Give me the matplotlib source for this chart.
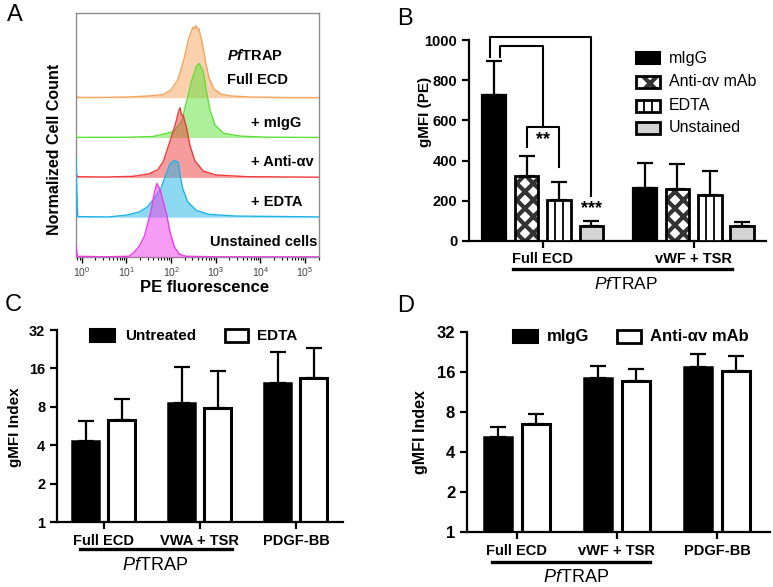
import numpy as np
import matplotlib
matplotlib.use('Agg')
import matplotlib.pyplot as plt
from matplotlib.patches import Rectangle
from matplotlib.lines import Line2D

plt.rcParams['font.family'] = ['Liberation Sans', 'DejaVu Sans']
plt.rcParams['mathtext.fontset'] = 'custom'
plt.rcParams['mathtext.rm'] = 'Liberation Sans'
plt.rcParams['mathtext.it'] = 'Liberation Sans:italic'
plt.rcParams['mathtext.bf'] = 'Liberation Sans:bold'
plt.rcParams['mathtext.bfit'] = 'Liberation Sans:bold:italic'
plt.rcParams['hatch.linewidth'] = 3.0

# ---- panel A: flow histograms (log10 PE, height relative to mode) ----
hist_labels = ['Full ECD', '+ mIgG', '+ Anti-\u03b1v', '+ EDTA', 'Unstained cells']
hist_colors = ['#F7A35C', '#5FE03A', '#EE3B3B', '#1EB4E6', '#EE3BEA']
hist_peaks = [1.81, 1.86, 1.75, 1.43, 1.85]

full_log = [-0.13, -0.10, 0.5, 1.0, 1.5, 1.82, 2.0, 2.15, 2.28, 2.40, 2.49, 2.53, 2.55, 2.58,
            2.62, 2.69, 2.77, 2.85, 2.96, 3.12, 3.35, 3.8, 4.5, 5.31]
full_h = [0.04, 0.005, 0.005, 0.01, 0.025, 0.045, 0.11, 0.25, 0.52, 0.84, 0.98, 0.96, 1.0, 0.97,
          0.96, 0.78, 0.50, 0.27, 0.12, 0.05, 0.025, 0.01, 0.004, 0.002]
migg_log = [-0.13, -0.11, 1.0, 1.6, 2.05, 2.23, 2.35, 2.46, 2.57, 2.63, 2.72, 2.80, 2.87, 2.98,
            3.17, 3.54, 4.2, 5.31]
migg_h = [0.03, 0.003, 0.004, 0.015, 0.08, 0.21, 0.5, 0.77, 0.97, 1.0, 0.89, 0.59, 0.37, 0.17,
          0.06, 0.02, 0.005, 0.002]
anti_log = [-0.13, -0.10, 0.5, 1.15, 1.5, 1.7, 1.82, 1.97, 2.09, 2.16, 2.18, 2.20, 2.23, 2.27,
            2.35, 2.42, 2.53, 2.72, 3.0, 3.7, 5.31]
anti_h = [0.07, 0.01, 0.005, 0.015, 0.05, 0.11, 0.22, 0.51, 0.75, 0.93, 0.97, 1.0, 0.9, 0.89,
          0.70, 0.46, 0.24, 0.09, 0.035, 0.01, 0.003]
edta_log = [-0.13, -0.115, -0.09, 0.6, 0.99, 1.28, 1.47, 1.62, 1.77, 1.85, 1.97, 2.07, 2.16,
            2.21, 2.26, 2.37, 2.56, 2.85, 3.45, 5.31]
edta_h = [1.05, 0.5, 0.01, 0.005, 0.035, 0.09, 0.18, 0.33, 0.5, 0.68, 0.93, 1.0, 0.96, 0.69,
          0.5, 0.27, 0.12, 0.05, 0.02, 0.005]
unst_log = [-0.13, -0.10, 0.5, 1.06, 1.17, 1.28, 1.40, 1.47, 1.55, 1.62, 1.68, 1.75, 1.82,
            1.90, 1.97, 2.07, 2.18, 2.33, 3.0, 5.31]
unst_h = [0.16, 0.01, 0.003, 0.01, 0.065, 0.14, 0.28, 0.44, 0.63, 0.86, 1.0, 0.92, 0.76,
          0.58, 0.35, 0.14, 0.04, 0.01, 0.003, 0.002]
hist_logs = [full_log, migg_log, anti_log, edta_log, unst_log]
hist_heights = [full_h, migg_h, anti_h, edta_h, unst_h]

# ---- panel B: gMFI (PE) ----
b_groups = ['Full ECD', 'vWF + TSR']
b_series = ['mIgG', 'Anti-\u03b1v mAb', 'EDTA', 'Unstained']
b_migg = [724, 264]
b_migg_sd = [173, 124]
b_anti = [324, 260]
b_anti_sd = [97, 125]
b_edta = [203, 231]
b_edta_sd = [91, 116]
b_unst = [74, 76]
b_unst_sd = [25, 20]

# ---- panel C: gMFI index ----
c_groups = ['Full ECD', 'VWA + TSR', 'PDGF-BB']
c_untreated = [4.3, 8.6, 12.3]
c_untreated_sd = [1.9, 7.8, 9.2]
c_edta = [6.3, 7.8, 13.4]
c_edta_sd = [2.9, 7.5, 9.7]

# ---- panel D: gMFI index ----
d_groups = ['Full ECD', 'vWF + TSR', 'PDGF-BB']
d_migg = [5.2, 14.5, 17.4]
d_migg_sd = [1.0, 3.3, 4.4]
d_anti = [6.5, 13.7, 16.3]
d_anti_sd = [1.2, 3.1, 4.7]

W, H = 773, 587
fig = plt.figure(figsize=(W / 100, H / 100), dpi=100)


def fx(x):
    return x / W


def fy(y):
    return 1 - y / H


def add_ax(l, t, r, b):
    return fig.add_axes([fx(l), fy(b), (r - l) / W, (b - t) / H])


def hline(x0, x1, y, lw=2.2):
    fig.add_artist(Line2D([fx(x0), fx(x1)], [fy(y), fy(y)], color='black', lw=lw,
                          transform=fig.transFigure))


def style_bar_axes(ax, fs):
    for s in ['top', 'right']:
        ax.spines[s].set_visible(False)
    for s in ['left', 'bottom']:
        ax.spines[s].set_linewidth(1.6)
    ax.tick_params(axis='both', width=1.6, length=5, labelsize=fs)
    for lab in ax.get_yticklabels() + ax.get_xticklabels():
        lab.set_fontweight('bold')


def upper_err(ax, x, y, sd):
    ax.errorbar(x, y, yerr=[np.zeros(len(sd)), sd], fmt='none', ecolor='black',
                elinewidth=1.6, capsize=5.5, capthick=1.6, zorder=1)


# ================= A =================
axA = add_ax(76, 13, 319, 257)
for i in range(5):
    base = 4 - i
    xs = 10 ** np.array(hist_logs[i])
    ys = base + hist_peaks[i] * np.array(hist_heights[i])
    axA.fill_between(xs, base, ys, color=hist_colors[i], alpha=0.5, lw=0, zorder=2 + i)
    axA.plot(xs, ys, color=hist_colors[i], lw=1.0, zorder=2 + i)
axA.set_xscale('log')
axA.set_xlim(10 ** -0.13, 10 ** 5.31)
axA.set_ylim(0, 6.13)
axA.set_yticks([])
for s in axA.spines.values():
    s.set_color('#8c8c8c')
    s.set_linewidth(1.0)
axA.set_xticks([10 ** k for k in range(6)])
axA.tick_params(axis='x', which='major', length=4, width=1.0, labelsize=7.5, labelcolor='#444444', pad=2)
axA.tick_params(axis='x', which='minor', length=2.5, width=0.8)

fig.text(fx(227), fy(55), r'$\mathbfit{Pf}$TRAP', fontsize=10.5, fontweight='bold', va='center')
fig.text(fx(227), fy(80), hist_labels[0], fontsize=10.5, fontweight='bold', va='center')
fig.text(fx(251), fy(123), hist_labels[1], fontsize=10.5, fontweight='bold', va='center')
fig.text(fx(251), fy(162), hist_labels[2], fontsize=10.5, fontweight='bold', va='center')
fig.text(fx(251), fy(202), hist_labels[3], fontsize=10.5, fontweight='bold', va='center')
fig.text(fx(210), fy(242), hist_labels[4], fontsize=10.5, fontweight='bold', va='center')
fig.text(fx(55), fy(149), 'Normalized Cell Count', fontsize=11.5, fontweight='bold',
         rotation=90, ha='center', va='center')
fig.text(fx(205), fy(288), 'PE fluorescence', fontsize=12, fontweight='bold', ha='center', va='center')

# ================= B =================
axB = add_ax(469, 40, 766, 241)
gx = np.arange(len(b_groups))
step, bw = 0.215, 0.156
offs = np.array([-1.5, -0.5, 0.5, 1.5]) * step
axB.bar(gx + offs[0], b_migg, bw, color='black', edgecolor='black', lw=1.6, zorder=2)
axB.bar(gx + offs[1], b_anti, bw, color='white', edgecolor='#333333', lw=0, hatch='xx', zorder=2)
axB.bar(gx + offs[1], b_anti, bw, color='none', edgecolor='black', lw=2.0, zorder=3)
axB.bar(gx + offs[2], b_edta, bw, color='white', edgecolor='black', lw=2.0, zorder=3)
for xc, v in zip(gx + offs[2], b_edta):
    for f in (-1 / 6, 1 / 6):
        axB.plot([xc + f * bw, xc + f * bw], [0, v], color='black', lw=1.3, zorder=3)
axB.bar(gx + offs[3], b_unst, bw, color='#d3d3d3', edgecolor='black', lw=2.0, zorder=2)
for k, (vals, sd) in enumerate([(b_migg, b_migg_sd), (b_anti, b_anti_sd),
                                 (b_edta, b_edta_sd), (b_unst, b_unst_sd)]):
    upper_err(axB, gx + offs[k], vals, sd)
axB.set_xlim(-0.49, 1.48)
axB.set_ylim(0, 1000)
axB.set_yticks([0, 200, 400, 600, 800, 1000])
axB.set_xticks(gx)
axB.set_xticklabels(b_groups)
style_bar_axes(axB, 10.5)
axB.tick_params(axis='x', pad=3)

# significance brackets
xm, xa, xe, xu = offs
bk = dict(color='black', lw=1.5, clip_on=False, zorder=4)
axB.plot([xm - 0.03, xm - 0.03, xu, xu], [917, 1016, 1016, 225], **bk)
axB.plot([xm + 0.035, xm + 0.035, 0, 0], [917, 969, 969, 567], **bk)
axB.plot([xa, xa, xe, xe], [468, 567, 567, 369], **bk)
axB.text(0, 505, '**', ha='center', va='center', fontsize=13, fontweight='bold')
axB.text(xu, 160, '***', ha='center', va='center', fontsize=13, fontweight='bold')

fig.text(fx(425), fy(112), 'gMFI (PE)', fontsize=11, fontweight='bold', rotation=90,
         ha='center', va='center')
hline(513, 732, 269, lw=2.4)
fig.text(fx(626), fy(284), r'$\mathit{Pf}$TRAP', fontsize=12.5, ha='center', va='center')

# legend B (drawn by hand)
leg_y = [58, 82, 106, 128]
for k, name in enumerate(b_series):
    yc = leg_y[k]
    rect_kw = dict(transform=fig.transFigure)
    if k == 0:
        fig.add_artist(Rectangle((fx(636), fy(yc + 6)), 24 / W, 12 / H, facecolor='black',
                                 edgecolor='black', lw=1.5, **rect_kw))
    elif k == 1:
        fig.add_artist(Rectangle((fx(636), fy(yc + 6)), 24 / W, 12 / H, facecolor='white',
                                 edgecolor='#333333', lw=0, hatch='x', **rect_kw))
        fig.add_artist(Rectangle((fx(636), fy(yc + 6)), 24 / W, 12 / H, facecolor='none',
                                 edgecolor='black', lw=2.0, **rect_kw))
    elif k == 2:
        fig.add_artist(Rectangle((fx(636), fy(yc + 6)), 24 / W, 12 / H, facecolor='white',
                                 edgecolor='black', lw=2.0, **rect_kw))
        for f in (1 / 3, 2 / 3):
            fig.add_artist(Line2D([fx(636 + 24 * f)] * 2, [fy(yc + 6), fy(yc - 6)], color='black',
                                  lw=1.3, transform=fig.transFigure))
    else:
        fig.add_artist(Rectangle((fx(636), fy(yc + 6)), 24 / W, 12 / H, facecolor='#d3d3d3',
                                 edgecolor='black', lw=2.0, **rect_kw))
    fig.text(fx(669), fy(yc), name, fontsize=11.5, va='center')

# ================= C =================
axC = add_ax(57, 330, 343, 522)
cx = np.arange(len(c_groups))
co, cw = 0.1875, 0.28
axC.bar(cx - co, c_untreated, cw, color='black', edgecolor='black', lw=1.8, zorder=2)
axC.bar(cx + co, c_edta, cw, color='white', edgecolor='black', lw=2.2, zorder=2)
upper_err(axC, cx - co, c_untreated, c_untreated_sd)
upper_err(axC, cx + co, c_edta, c_edta_sd)
axC.set_yscale('log', base=2)
axC.set_ylim(1, 32)
axC.set_yticks([1, 2, 4, 8, 16, 32])
axC.set_yticklabels(['1', '2', '4', '8', '16', '32'])
axC.minorticks_off()
axC.set_xlim(-0.485, 2.49)
axC.set_xticks(cx)
axC.set_xticklabels(c_groups)
style_bar_axes(axC, 10.5)
fig.text(fx(15), fy(427), 'gMFI Index', fontsize=11, fontweight='bold', rotation=90,
         ha='center', va='center')
hline(80, 232, 549, lw=2.4)
fig.text(fx(155), fy(565), r'$\mathit{Pf}$TRAP', fontsize=13, ha='center', va='center')
# legend C
fig.add_artist(Rectangle((fx(90), fy(342)), 25 / W, 13 / H, facecolor='black', edgecolor='black',
                         lw=1.5, transform=fig.transFigure))
fig.text(fx(125), fy(335.5), 'Untreated', fontsize=11, fontweight='bold', va='center')
fig.add_artist(Rectangle((fx(225), fy(342)), 23 / W, 13 / H, facecolor='white', edgecolor='black',
                         lw=2.0, transform=fig.transFigure))
fig.text(fx(257), fy(335.5), 'EDTA', fontsize=11, fontweight='bold', va='center')

# ================= D =================
axD = add_ax(467, 332, 770, 532)
dx = np.arange(len(d_groups))
do, dw = 0.188, 0.28
axD.bar(dx - do, d_migg, dw, color='black', edgecolor='black', lw=1.8, zorder=2)
axD.bar(dx + do, d_anti, dw, color='white', edgecolor='black', lw=2.2, zorder=2)
upper_err(axD, dx - do, d_migg, d_migg_sd)
upper_err(axD, dx + do, d_anti, d_anti_sd)
axD.set_yscale('log', base=2)
axD.set_ylim(1, 32)
axD.set_yticks([1, 2, 4, 8, 16, 32])
axD.set_yticklabels(['1', '2', '4', '8', '16', '32'])
axD.minorticks_off()
axD.set_xlim(-0.498, 2.53)
axD.set_xticks(dx)
axD.set_xticklabels(d_groups)
style_bar_axes(axD, 10.5)
axD.tick_params(axis='y', labelsize=12)
for lab in axD.get_yticklabels():
    lab.set_fontweight('bold')
fig.text(fx(420), fy(432), 'gMFI Index', fontsize=11.5, fontweight='bold', rotation=90,
         ha='center', va='center')
hline(492, 650, 562, lw=2.4)
fig.text(fx(576), fy(578), r'$\mathit{Pf}$TRAP', fontsize=13, ha='center', va='center')
# legend D
fig.add_artist(Rectangle((fx(513), fy(343)), 25 / W, 13 / H, facecolor='black', edgecolor='black',
                         lw=1.5, transform=fig.transFigure))
fig.text(fx(547), fy(336.5), 'mIgG', fontsize=12, fontweight='bold', va='center')
fig.add_artist(Rectangle((fx(617), fy(343)), 24 / W, 13 / H, facecolor='white', edgecolor='black',
                         lw=2.0, transform=fig.transFigure))
fig.text(fx(650), fy(336.5), 'Anti-\u03b1v mAb', fontsize=12, fontweight='bold', va='center')

# panel letters
for letter, (px, py) in zip('ABCD', [(15, 15), (405, 19), (13, 305), (406, 306)]):
    fig.text(fx(px), fy(py), letter, fontsize=17, ha='center', va='center')

fig.savefig('out.png', dpi=100)
